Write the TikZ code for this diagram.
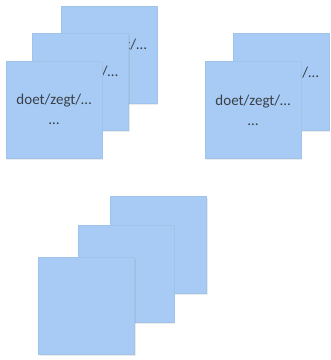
\documentclass[tikz,border=0pt]{standalone}
\usepackage{fontspec}
\setmainfont{Carlito}
\usetikzlibrary{shadows}
\definecolor{note}{HTML}{A7CBF4}
\definecolor{notetext}{HTML}{3A3F47}
\tikzset{
  sticky/.style={fill=note, draw=note!96!black, line width=0.2pt,
    minimum width=96pt, minimum height=97pt, inner sep=0pt,
    align=center, font=\fontsize{15}{20}\selectfont, text=notetext,
    drop shadow={opacity=0.16, shadow xshift=1.2pt, shadow yshift=-1.8pt}},
}
\begin{document}
\begin{tikzpicture}[x=1pt,y=-1pt]
\useasboundingbox (0,0) rectangle (331,360);
% group 1
\node[sticky] (a3) at (109,54.5) {\phantom{doet/zeg}t/…\\\phantom{…}};
\node[sticky] (a2) at (80.5,81.5) {\phantom{doet/zegt}/…\\\phantom{…}};
\node[sticky] (a1) at (54,109.5) {doet/zegt/…\\…};
% group 2
\node[sticky] (b2) at (281,82) {\phantom{doet/zeg}t/…\\\phantom{…}};
\node[sticky] (b1) at (253,110) {doet/zegt/…\\…};
% group 3
\node[sticky] (c3) at (158.5,244.5) {};
\node[sticky] (c2) at (126,273.5) {};
\node[sticky] (c1) at (86.5,305.5) {};
\end{tikzpicture}
\end{document}
